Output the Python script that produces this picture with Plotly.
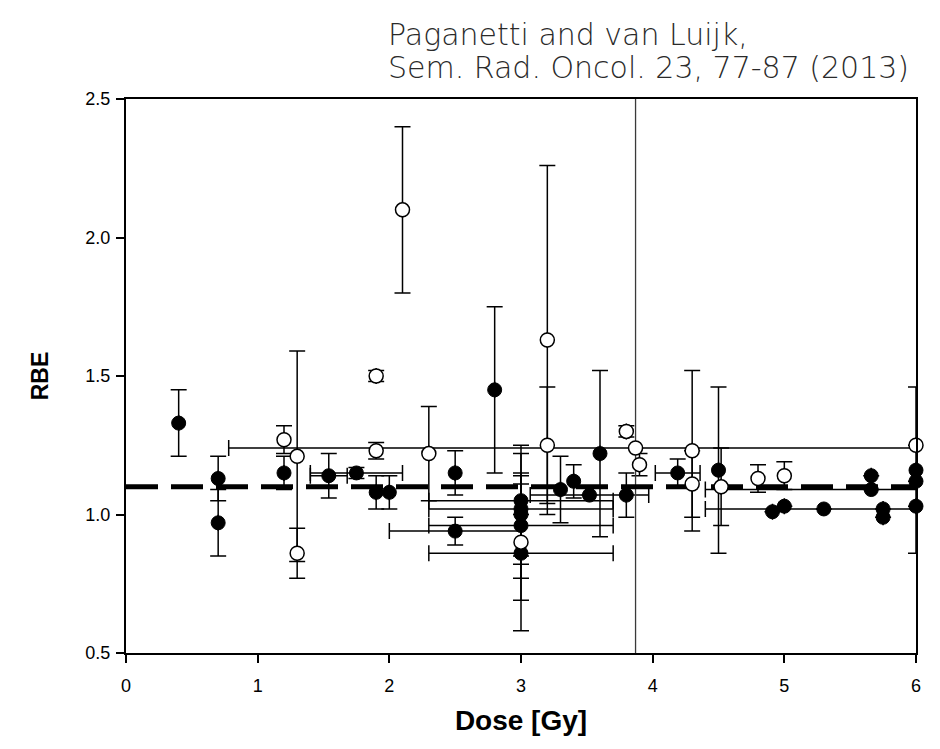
import plotly.graph_objects as go

# ---- data: filled symbols ----
filled_x = [0.40, 0.70, 0.70, 1.20, 1.54, 1.75, 1.90, 2.00, 2.50, 2.50, 2.80,
            3.00, 3.00, 3.00, 3.00, 3.00, 3.30, 3.40, 3.52, 3.60, 3.80,
            4.19, 4.50, 4.91, 5.00, 5.30, 5.66, 5.66, 5.75, 5.75, 6.00, 6.00, 6.00]
filled_y = [1.33, 1.13, 0.97, 1.15, 1.14, 1.15, 1.08, 1.08, 1.15, 0.94, 1.45,
            1.05, 1.02, 1.00, 0.96, 0.86, 1.09, 1.12, 1.07, 1.22, 1.07,
            1.15, 1.16, 1.01, 1.03, 1.02, 1.14, 1.09, 1.02, 0.99, 1.16, 1.12, 1.03]
filled_yerr = [0.12, 0.08, 0.12, 0.06, 0.08, 0.02, 0.06, 0.06, 0.08, 0.05, 0.30,
               0.20, 0.20, 0.00, 0.19, 0.28, 0.12, 0.06, 0.00, 0.30, 0.08,
               0.05, 0.30, 0.00, 0.00, 0.00, 0.00, 0.00, 0.00, 0.00, 0.30, 0.00, 0.00]
filled_xerr = [0, 0, 0, 0, 0.14, 0.35, 0, 0, 0, 0.50, 0,
               0.70, 0.70, 0, 0.70, 0.70, 0, 0, 0.45, 0, 0,
               0.17, 0, 0, 0, 0.90, 0, 1.26, 0, 0, 0, 0, 0]

# ---- data: open symbols ----
open_x = [1.20, 1.30, 1.30, 1.90, 1.90, 2.10, 2.30, 3.00, 3.20, 3.20, 3.80,
          3.87, 3.90, 4.30, 4.30, 4.52, 4.80, 5.00, 6.00]
open_y = [1.27, 1.21, 0.86, 1.50, 1.23, 2.10, 1.22, 0.90, 1.63, 1.25, 1.30,
          1.24, 1.18, 1.23, 1.11, 1.10, 1.13, 1.14, 1.25]
open_yerr = [0.05, 0.38, 0.09, 0.02, 0.03, 0.30, 0.17, 0.21, 0.63, 0.21, 0.02,
             2.00, 0.04, 0.29, 0.12, 0.14, 0.05, 0.05, 0.00]
open_xerr = [0, 0, 0, 0, 0, 0, 0, 0, 0, 0, 0,
             3.09, 0, 0, 0, 0, 0, 0, 0]

reference_rbe = 1.1
x_ticks = [0, 1, 2, 3, 4, 5, 6]
y_ticks = [0.5, 1.0, 1.5, 2.0, 2.5]
citation_lines = ["Paganetti and van Luijk,", "Sem. Rad. Oncol. 23, 77-87 (2013)"]

FONT = "Liberation Sans, Arial, sans-serif"

# the one very wide study (long vertical bar) is drawn with a thinner grey bar
wide = [i for i, e in enumerate(open_yerr) if e >= 1.0]
normal = [i for i in range(len(open_x)) if i not in wide]

fig = go.Figure()

# error bars (clipped to the plot area)
ex = filled_x + [open_x[i] for i in normal]
ey = filled_y + [open_y[i] for i in normal]
fig.add_trace(go.Scatter(
    x=ex, y=ey, mode="markers",
    marker=dict(size=1, color="rgba(0,0,0,0)"),
    error_y=dict(type="data", array=filled_yerr + [open_yerr[i] for i in normal],
                 visible=True, color="black", thickness=1.5, width=8),
    error_x=dict(type="data", array=filled_xerr + [open_xerr[i] for i in normal],
                 visible=True, color="black", thickness=1.5, width=8),
    cliponaxis=True, hoverinfo="skip", showlegend=False))

fig.add_trace(go.Scatter(
    x=[open_x[i] for i in wide], y=[open_y[i] for i in wide], mode="markers",
    marker=dict(size=1, color="rgba(0,0,0,0)"),
    error_y=dict(type="data", array=[open_yerr[i] for i in wide], visible=True,
                 color="#3a3a3a", thickness=1.3, width=0),
    error_x=dict(type="data", array=[open_xerr[i] for i in wide], visible=True,
                 color="black", thickness=1.5, width=8),
    cliponaxis=True, hoverinfo="skip", showlegend=False))

# reference RBE line
fig.add_trace(go.Scatter(
    x=[0, 6], y=[reference_rbe, reference_rbe], mode="lines",
    line=dict(color="black", width=5, dash="32px,13px"),
    showlegend=False, hoverinfo="skip"))

# filled markers
fig.add_trace(go.Scatter(
    x=filled_x, y=filled_y, mode="markers",
    marker=dict(size=14, color="black", line=dict(color="black", width=1)),
    cliponaxis=False, showlegend=False))

# open markers
fig.add_trace(go.Scatter(
    x=open_x, y=open_y, mode="markers",
    marker=dict(size=14, color="white", line=dict(color="black", width=1.5)),
    cliponaxis=False, showlegend=False))

axis_common = dict(showline=True, linecolor="black", linewidth=2, mirror=True,
                   ticks="outside", ticklen=8, tickwidth=2, tickcolor="black",
                   showgrid=False, zeroline=False, automargin=False,
                   tickfont=dict(family=FONT, size=18, color="black"))

fig.update_xaxes(range=[0, 6], tickvals=x_ticks, ticktext=[str(t) for t in x_ticks],
                 ticklabelstandoff=7,
                 title=dict(text="<b>Dose [Gy]</b>", standoff=16,
                            font=dict(family=FONT, size=28, color="black")),
                 **axis_common)
fig.update_yaxes(range=[0.5, 2.5], tickvals=y_ticks, ticktext=[f"{t:.1f}" for t in y_ticks],
                 ticklabelstandoff=2,
                 title=dict(text="<b>RBE</b>", standoff=30,
                            font=dict(family=FONT, size=23, color="black")),
                 **axis_common)

for line_text, ypos in zip(citation_lines, [1.117, 1.056]):
    fig.add_annotation(
        text=line_text, xref="paper", yref="paper", x=0.329, y=ypos,
        xanchor="left", yanchor="middle", align="left", showarrow=False,
        font=dict(family="DejaVu Sans, sans-serif", size=30, color="#2a2a2a", weight=200))

fig.update_layout(width=924, height=733, plot_bgcolor="white", paper_bgcolor="white",
                  margin=dict(l=118, r=16, t=91, b=88))

fig.write_html("out.html")
